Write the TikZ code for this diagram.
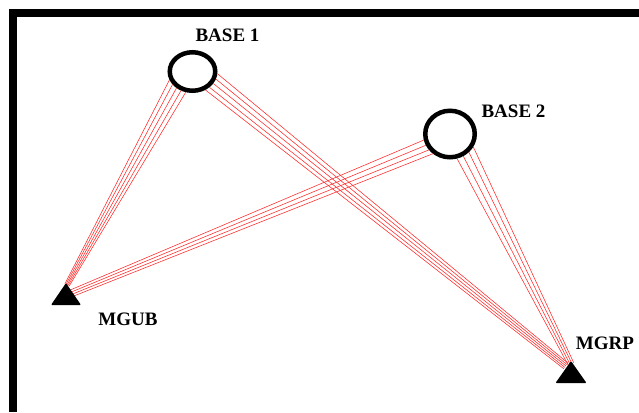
\documentclass[tikz,border=0pt]{standalone}
\usepackage{fontspec}
\setmainfont{Liberation Serif}
\usetikzlibrary{shapes.geometric}
\begin{document}
\begin{tikzpicture}[x=1pt,y=-1pt,
  base/.style={draw, ellipse, line width=4.5pt, inner sep=0pt},
  lbl/.style={font=\fontsize{19}{22}\selectfont\bfseries, inner sep=0pt},
  ray/.style={red!85, line width=0.55pt},
  tri/.style={fill=black, rounded corners=1pt}]
\useasboundingbox (0,0) rectangle (639,412);
% frame
\fill (9,9) rectangle (639,17);
\fill (9,9) rectangle (17,412);
% bases
\node[base, minimum width=45.5pt, minimum height=38.5pt] (b1) at (192.5,71.5) {};
\node[base, minimum width=49.5pt, minimum height=46.5pt] (b2) at (450,134) {};
% targets
\coordinate (mgub) at (66,283);
\coordinate (mgrp) at (571,361);
\coordinate (e11) at (67,285);
\coordinate (e12) at (566,366);
\coordinate (e21) at (72,293);
\coordinate (e22) at (571,364);
% rays
\foreach \a [count=\k from -2] in {200,213,226,239,252}
  \draw[ray] (b1.\a) -- ([xshift={\k*1.05pt}, yshift={\k*(-0.57pt)}]e11);
\foreach \a [count=\k from -2] in {355,342.5,330,317.5,305}
  \draw[ray] (b1.\a) -- ([xshift={\k*(-1.1pt)}, yshift={\k*(-1.37pt)}]e12);
\foreach \a/\k in {193/-1.5,205/-0.5,217/0.5,229/1.5}
  \draw[ray] (b2.\a) -- ([xshift={\k*0.88pt}, yshift={\k*(-2.13pt)}]e21);
\foreach \a/\k in {286/1.5,301/0.5,316/-0.5,331/-1.5}
  \draw[ray] (b2.\a) -- ([xshift={\k*(-1.79pt)}, yshift={\k*(-0.89pt)}]e22);
% triangles
\fill[tri] (mgub) -- ++(15,22) -- ++(-30,0) -- cycle;
\fill[tri] (mgrp) -- ++(15.5,22) -- ++(-31,0) -- cycle;
% labels
\node[lbl] (l1) at (227.5,35) {BASE 1};
\node[lbl] (l2) at (513.5,111) {BASE 2};
\node[lbl] (l3) at (128,319) {MGUB};
\node[lbl] (l4) at (605,343.5) {MGRP};
\end{tikzpicture}
\end{document}
